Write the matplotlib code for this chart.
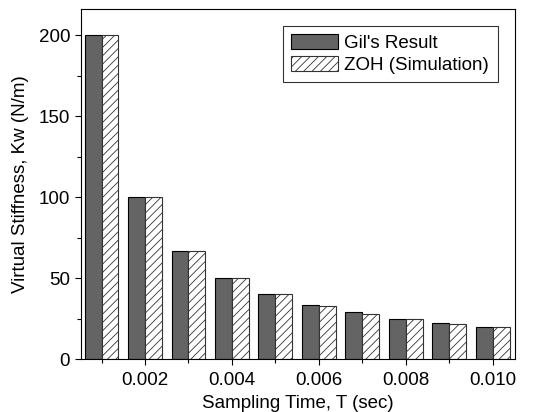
import matplotlib
matplotlib.use("Agg")
import matplotlib.pyplot as plt
import numpy as np
from matplotlib.ticker import MultipleLocator

plt.rcParams['font.family'] = ['Liberation Sans', 'DejaVu Sans']
plt.rcParams['hatch.linewidth'] = 0.6

T = [0.001, 0.002, 0.003, 0.004, 0.005, 0.006, 0.007, 0.008, 0.009, 0.010]
gil = [200, 100, 66.7, 50, 40, 33.3, 29, 25, 22.2, 20]
zoh = [200, 100, 66.7, 50, 40, 33, 28, 25, 22, 20]
xticks = [0.002, 0.004, 0.006, 0.008, 0.010]
xticklabels = ["0.002", "0.004", "0.006", "0.008", "0.010"]
yticks = [0, 50, 100, 150, 200]

FS = 13.5

fig = plt.figure(figsize=(5.45, 4.12), dpi=100)
ax = fig.add_axes([0.148, 0.128, 0.797, 0.849])

w = 0.00039
x = np.array(T)
ax.bar(x - w / 2, gil, width=w, color='#646464', edgecolor='black', linewidth=0.8, label="Gil's Result")
ax.bar(x + w / 2, zoh, width=w, color='white', edgecolor='#333333', hatch='////', linewidth=0.8, label="ZOH (Simulation)")

ax.set_xlim(0.00052, 0.010513)
ax.set_ylim(0, 215.8)
ax.set_xticks(xticks)
ax.set_xticklabels(xticklabels)
ax.xaxis.set_minor_locator(MultipleLocator(0.001))
ax.set_yticks(yticks)
ax.yaxis.set_minor_locator(MultipleLocator(25))
ax.tick_params(axis='both', which='major', direction='out', length=4.5, width=0.8, labelsize=FS, pad=3)
ax.tick_params(axis='x', which='major', pad=5)
ax.tick_params(axis='both', which='minor', direction='out', length=3, width=0.8)
ax.set_xlabel("Sampling Time, T (sec)", fontsize=FS, labelpad=4)
ax.set_ylabel("Virtual Stiffness, Kw (N/m)", fontsize=FS, labelpad=7)
for s in ax.spines.values():
    s.set_linewidth(0.8)

leg = ax.legend(loc='upper right', bbox_to_anchor=(0.960, 0.954), fontsize=FS, frameon=True,
                fancybox=False, edgecolor='black', handlelength=2.5, handleheight=0.85,
                borderpad=0.45, labelspacing=0.2, handletextpad=0.35, borderaxespad=0)
leg.get_frame().set_linewidth(0.8)

fig.savefig("out.png", dpi=100)
